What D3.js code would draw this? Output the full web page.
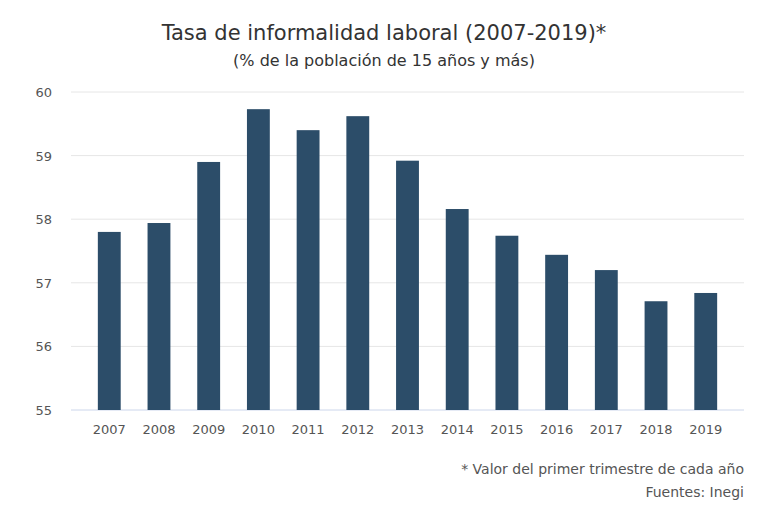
<!DOCTYPE html>
<html><head><meta charset="utf-8">
<script src="https://cdn.jsdelivr.net/npm/d3@7"></script>
<style>body{margin:0;background:#fff}svg{font-family:"DejaVu Sans",sans-serif}</style>
</head><body><svg id="c" width="768" height="518"></svg>
<script>
const years=["2007","2008","2009","2010","2011","2012","2013","2014","2015","2016","2017","2018","2019"];
const values=[57.80,57.94,58.90,59.73,59.40,59.62,58.92,58.16,57.74,57.44,57.20,56.71,56.84];
const yTicks=[55,56,57,58,59,60];
const svg=d3.select("#c");
const x=d3.scaleBand().domain(years).range([71,744]).padding(0.54);
const y=d3.scaleLinear().domain([55,60]).range([410,92]);
svg.append("g").selectAll("line").data(yTicks).join("line")
 .attr("x1",71).attr("x2",744).attr("y1",d=>y(d)).attr("y2",d=>y(d))
 .attr("stroke",d=>d===55?"#ccd6eb":"#e6e6e6");
svg.append("g").selectAll("text").data(yTicks).join("text")
 .attr("x",52).attr("y",d=>y(d)+5).attr("text-anchor","end")
 .attr("font-size",13).attr("fill","#555").text(d=>d);
svg.append("g").selectAll("rect").data(values).join("rect")
 .attr("x",(d,i)=>x(years[i])).attr("width",x.bandwidth())
 .attr("y",d=>y(d)).attr("height",d=>y(55)-y(d)).attr("fill","#2c4d69");
svg.append("g").selectAll("text").data(years).join("text")
 .attr("x",d=>x(d)+x.bandwidth()/2).attr("y",434).attr("text-anchor","middle")
 .attr("font-size",13).attr("fill","#555").text(d=>d);
svg.append("text").attr("x",384).attr("y",40).attr("text-anchor","middle")
 .attr("font-size",21).attr("fill","#333").text("Tasa de informalidad laboral (2007-2019)*");
svg.append("text").attr("x",384).attr("y",66).attr("text-anchor","middle")
 .attr("font-size",16).attr("fill","#333").text("(% de la población de 15 años y más)");
svg.append("text").attr("x",744).attr("y",474).attr("text-anchor","end")
 .attr("font-size",14).attr("fill","#555").text("* Valor del primer trimestre de cada año");
svg.append("text").attr("x",744).attr("y",497).attr("text-anchor","end")
 .attr("font-size",14).attr("fill","#555").text("Fuentes: Inegi");
</script></body></html>
